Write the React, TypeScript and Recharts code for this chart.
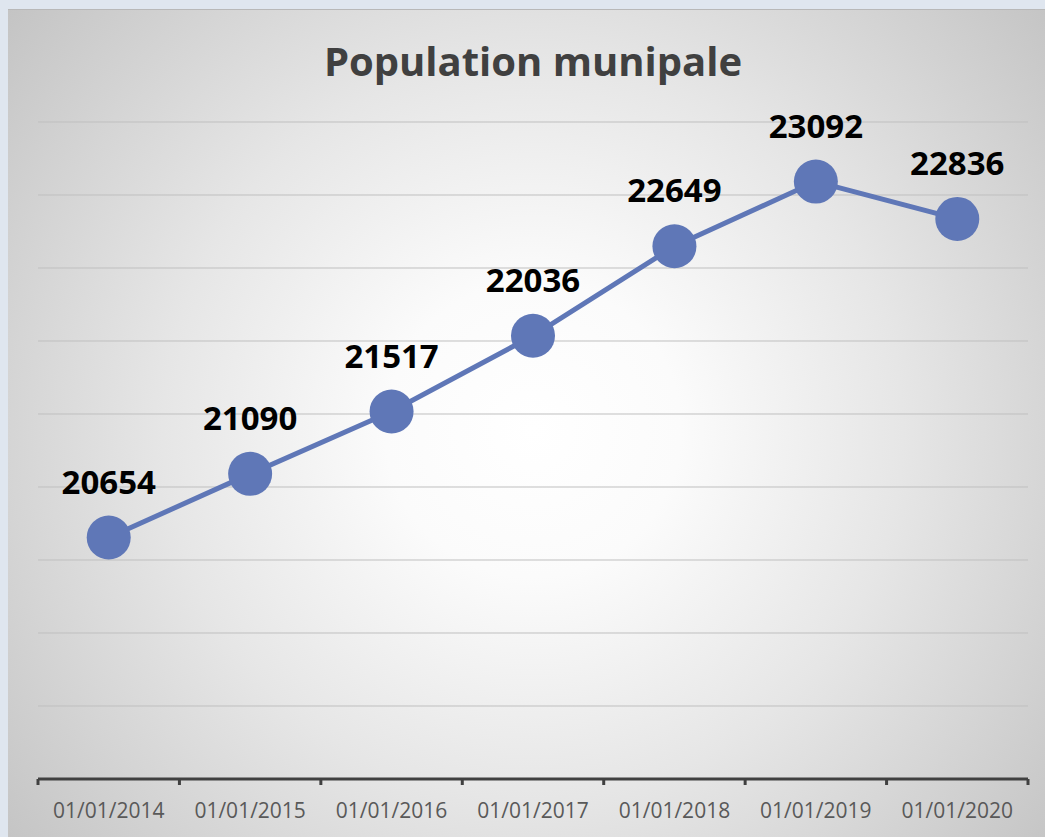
import React from 'react';
import { LineChart, Line, XAxis, YAxis, CartesianGrid, LabelList } from 'recharts';

const categories = ['01/01/2014', '01/01/2015', '01/01/2016', '01/01/2017', '01/01/2018', '01/01/2019', '01/01/2020'];
const population = [20654, 21090, 21517, 22036, 22649, 23092, 22836];
const yTicks = [19000, 19500, 20000, 20500, 21000, 21500, 22000, 22500, 23000, 23500];
const title = 'Population munipale';

const data = categories.map((c, i) => ({ date: c, value: population[i] }));

const CHART_W = 1050;
const CHART_H = 840;
const MARGIN = { top: 113, right: 30, bottom: 30, left: 30 };
const PLOT_W = CHART_W - MARGIN.left - MARGIN.right;
const HALF_BAND = PLOT_W / categories.length / 2;
const FONT = '"Open Sans", "Noto Sans", sans-serif';
const LINE_COLOR = '#5f77b7';

const Tick = (props: any) => {
  const { x, y, payload, index } = props;
  const last = index === categories.length - 1;
  return (
    <g>
      <line x1={x - HALF_BAND} x2={x - HALF_BAND} y1={y} y2={y + 6} stroke="#404040" strokeWidth={3} />
      {last && <line x1={x + HALF_BAND} x2={x + HALF_BAND} y1={y} y2={y + 6} stroke="#404040" strokeWidth={3} />}
      <text x={x} y={y + 39} textAnchor="middle" fontFamily={FONT} fontSize={21} fill="#595959">
        {payload.value}
      </text>
    </g>
  );
};

const renderLabel = (props: any) => {
  const { x, y, value } = props;
  return (
    <text x={x} y={y - 44} textAnchor="middle" fontFamily={FONT} fontWeight={700} fontSize={33} fill="#000000">
      {value}
    </text>
  );
};

export default function App() {
  return (
    <div style={{ position: 'absolute', left: 0, top: 0, width: 1045, height: 837, background: '#dfe6ef', overflow: 'hidden' }}>
      <div
        style={{
          position: 'absolute',
          left: 8,
          top: 9,
          width: CHART_W,
          height: CHART_H,
          background: 'radial-gradient(circle at 50% 50%, #ffffff 0%, #fbfbfb 22%, #e6e6e6 55%, #c4c4c4 100%)',
          borderTop: '1px solid #b8b8b8',
          boxSizing: 'border-box',
        }}
      >
        <div
          style={{
            position: 'absolute',
            left: 0,
            top: 30.5,
            width: CHART_W,
            textAlign: 'center',
            fontFamily: FONT,
            fontWeight: 700,
            fontSize: 40,
            lineHeight: 1,
            color: '#404040',
          }}
        >
          {title}
        </div>
        <div style={{ position: 'absolute', left: 0, top: -1 }}>
          <LineChart width={CHART_W} height={CHART_H} data={data} margin={MARGIN}>
            <CartesianGrid horizontal vertical={false} stroke="#bfbfbf" strokeWidth={1} />
            <YAxis hide domain={[19000, 23500]} ticks={yTicks} type="number" />
            <XAxis
              dataKey="date"
              padding={{ left: HALF_BAND, right: HALF_BAND }}
              axisLine={{ stroke: '#404040', strokeWidth: 3 }}
              tickLine={false}
              tickSize={0}
              tickMargin={0}
              interval={0}
              height={MARGIN.bottom === 30 ? 40 : 40}
              tick={<Tick />}
            />
            <Line
              dataKey="value"
              stroke={LINE_COLOR}
              strokeWidth={5}
              dot={{ r: 22, fill: LINE_COLOR, stroke: 'none' }}
              activeDot={false}
              isAnimationActive={false}
            >
              <LabelList dataKey="value" content={renderLabel} />
            </Line>
          </LineChart>
        </div>
      </div>
    </div>
  );
}
